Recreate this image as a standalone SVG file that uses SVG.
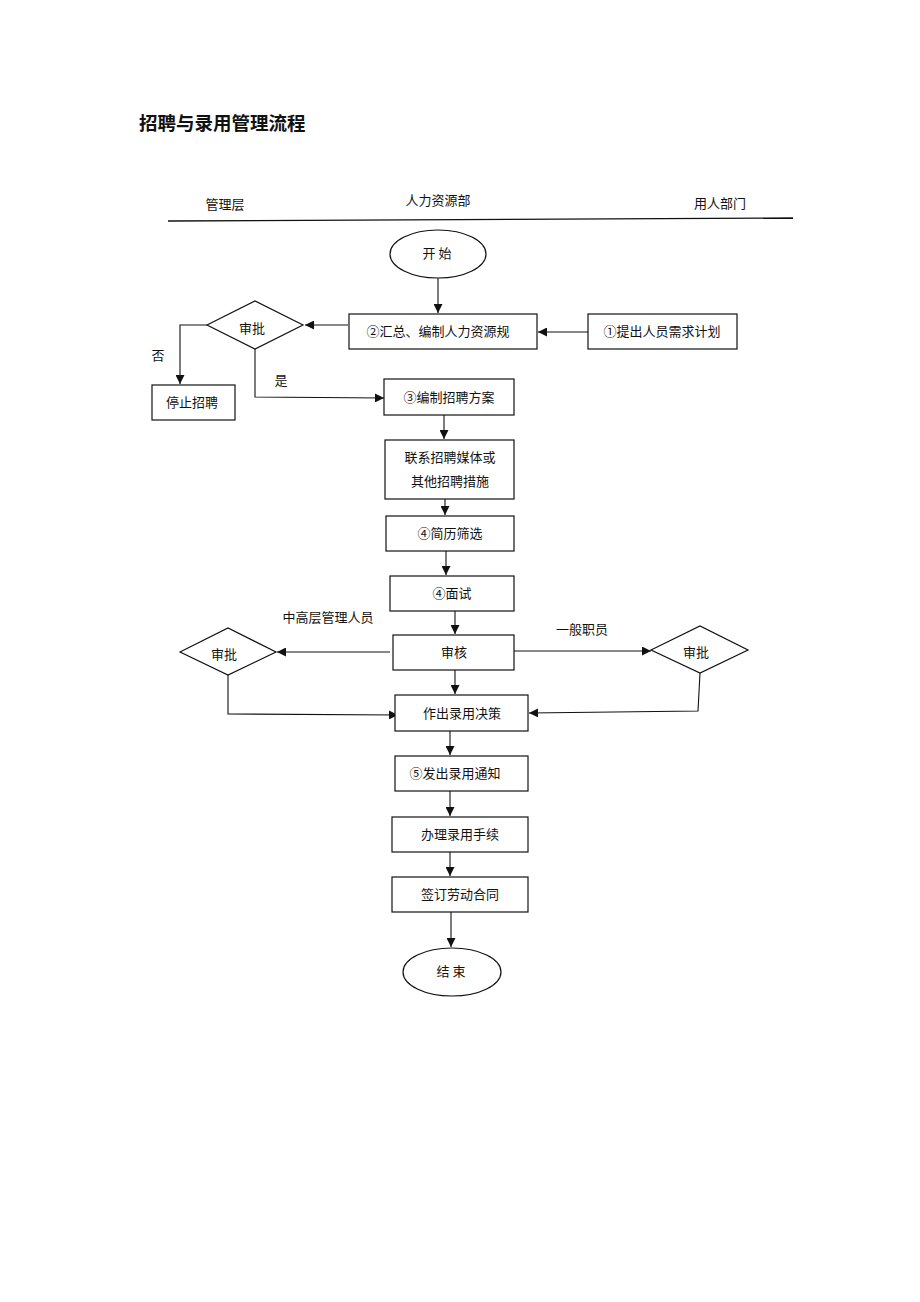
<svg xmlns="http://www.w3.org/2000/svg" width="920" height="1302" viewBox="0 0 920 1302">
<style>
.t{font-family:"Noto Sans CJK SC","Noto Sans CJK JP",sans-serif;font-size:13px;fill:#111;text-anchor:middle;dominant-baseline:central}
.title{font-family:"Noto Sans CJK SC",sans-serif;font-size:18.5px;font-weight:bold;fill:#111}
.n{fill:#fff;stroke:#111;stroke-width:1.2}
.c{fill:none;stroke:#111;stroke-width:1.1}
</style>
<defs>
<marker id="a" viewBox="0 0 10 10" refX="10" refY="5" markerWidth="9" markerHeight="9" markerUnits="userSpaceOnUse" orient="auto">
<path d="M0,0 L10,5 L0,10 z" fill="#111"/>
</marker>
</defs>
<rect width="920" height="1302" fill="#fff"/>
<text class="title" x="139" y="130">招聘与录用管理流程</text>
<g id="header">
<text class="t" x="225" y="203">管理层</text>
<text class="t" x="438" y="199">人力资源部</text>
<text class="t" x="720" y="202">用人部门</text>
<line x1="168" y1="221" x2="793" y2="218" stroke="#111" stroke-width="1.3"/>
</g>
<g id="connectors">
<path class="c" d="M438,278 V313" marker-end="url(#a)"/>
<path class="c" d="M588,332 H538" marker-end="url(#a)"/>
<path class="c" d="M348,325 H305" marker-end="url(#a)"/>
<path class="c" d="M207,325 H180 V384" marker-end="url(#a)"/>
<path class="c" d="M255,349 V397 L384,398" marker-end="url(#a)"/>
<path class="c" d="M444,415 V439" marker-end="url(#a)"/>
<path class="c" d="M445,499 V515" marker-end="url(#a)"/>
<path class="c" d="M446,551 V575" marker-end="url(#a)"/>
<path class="c" d="M455,611 V634" marker-end="url(#a)"/>
<path class="c" d="M390,652 H277" marker-end="url(#a)"/>
<path class="c" d="M514,651 H651" marker-end="url(#a)"/>
<path class="c" d="M455,670 V694" marker-end="url(#a)"/>
<path class="c" d="M228,675 V714 L398,715" marker-end="url(#a)"/>
<path class="c" d="M700,673 L698,711 L529,713" marker-end="url(#a)"/>
<path class="c" d="M450,731 V755" marker-end="url(#a)"/>
<path class="c" d="M450,791 V816" marker-end="url(#a)"/>
<path class="c" d="M450,852 V876" marker-end="url(#a)"/>
<path class="c" d="M451,912 V947" marker-end="url(#a)"/>
<text class="t" x="158" y="354">否</text>
<text class="t" x="281" y="379">是</text>
<text class="t" x="328" y="616">中高层管理人员</text>
<text class="t" x="582" y="628">一般职员</text>
</g>
<g id="start"><ellipse class="n" cx="438" cy="254" rx="48" ry="24"/><text class="t" x="437" y="252">开  始</text></g>
<g id="n2"><rect class="n" x="349" y="314" width="188" height="35"/><text class="t" x="438" y="330">②汇总、编制人力资源规</text></g>
<g id="n1"><rect class="n" x="588" y="314" width="149" height="35"/><text class="t" x="662" y="330">①提出人员需求计划</text></g>
<g id="d1"><polygon class="n" points="207,325 255,301 303,325 255,349"/><text class="t" x="252" y="327">审批</text></g>
<g id="stop"><rect class="n" x="152" y="385" width="83" height="35"/><text class="t" x="192" y="401">停止招聘</text></g>
<g id="n3"><rect class="n" x="384" y="379" width="130" height="36"/><text class="t" x="449" y="396">③编制招聘方案</text></g>
<g id="media"><rect class="n" x="385" y="440" width="129" height="59"/><text class="t" x="450" y="456">联系招聘媒体或</text><text class="t" x="450" y="480">其他招聘措施</text></g>
<g id="n4a"><rect class="n" x="386" y="516" width="128" height="35"/><text class="t" x="450" y="532">④简历筛选</text></g>
<g id="n4b"><rect class="n" x="390" y="576" width="124" height="35"/><text class="t" x="452" y="592">④面试</text></g>
<g id="review"><rect class="n" x="393" y="635" width="121" height="35"/><text class="t" x="454" y="651">审核</text></g>
<g id="d2"><polygon class="n" points="180,652 228,628 276,652 228,675"/><text class="t" x="224" y="653">审批</text></g>
<g id="d3"><polygon class="n" points="651,650 700,626 748,650 700,673"/><text class="t" x="696" y="651">审批</text></g>
<g id="decide"><rect class="n" x="395" y="695" width="133" height="36"/><text class="t" x="462" y="712">作出录用决策</text></g>
<g id="n5"><rect class="n" x="395" y="756" width="133" height="35"/><text class="t" x="455" y="772">⑤发出录用通知</text></g>
<g id="proc"><rect class="n" x="392" y="817" width="136" height="35"/><text class="t" x="460" y="833">办理录用手续</text></g>
<g id="contract"><rect class="n" x="392" y="877" width="136" height="35"/><text class="t" x="460" y="893">签订劳动合同</text></g>
<g id="end"><ellipse class="n" cx="452" cy="972" rx="49" ry="24"/><text class="t" x="451" y="970">结  束</text></g>
</svg>
